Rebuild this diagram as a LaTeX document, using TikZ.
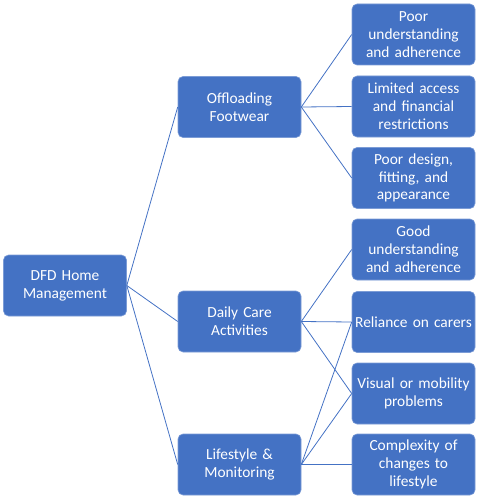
\documentclass[tikz,border=0pt]{standalone}
\usepackage{fontspec}
\setmainfont{Carlito}
\usepackage{xcolor}
\definecolor{dfdblue}{HTML}{4472C4}
\usetikzlibrary{calc}

\begin{document}
\begin{tikzpicture}[x=1pt, y=-1pt,
    dfdbox/.style={rectangle, rounded corners=5pt, fill=dfdblue, draw=dfdblue!70!white, line width=0.6pt,
        minimum width=123pt, minimum height=61pt, text width=120pt, align=center,
        text=white, font=\fontsize{15.4}{17.8}\selectfont, inner sep=1pt},
    dfdline/.style={dfdblue, line width=0.8pt}]
    \useasboundingbox (0,0) rectangle (478,500);
    \node[dfdbox] (HM) at (65, 285.5) {DFD Home\\Management};
    \node[dfdbox] (OF) at (239.5, 107) {Offloading\\Footwear};
    \node[dfdbox] (DC) at (239.5, 321.5) {Daily Care\\Activities};
    \node[dfdbox] (LM) at (239.5, 464.5) {Lifestyle \&\\Monitoring};
    \node[dfdbox] (PU) at (413.5, 34.5) {Poor\\understanding\\and adherence};
    \node[dfdbox] (LA) at (413.5, 106.5) {Limited access\\and financial\\restrictions};
    \node[dfdbox] (PD) at (413.5, 178) {Poor design,\\fitting, and\\appearance};
    \node[dfdbox] (GU) at (413.5, 249.5) {Good\\understanding\\and adherence};
    \node[dfdbox] (RC) at (413.5, 322) {Reliance on carers};
    \node[dfdbox] (VM) at (413.5, 393.5) {Visual or mobility\\problems};
    \node[dfdbox] (CL) at (413.5, 464.5) {Complexity of\\changes to\\lifestyle};
    \draw[dfdline] (HM.east) -- (OF.west);
    \draw[dfdline] (HM.east) -- (DC.west);
    \draw[dfdline] (HM.east) -- (LM.west);
    \draw[dfdline] (OF.east) -- (PU.west);
    \draw[dfdline] (OF.east) -- (LA.west);
    \draw[dfdline] (OF.east) -- (PD.west);
    \draw[dfdline] (DC.east) -- (GU.west);
    \draw[dfdline] (DC.east) -- (RC.west);
    \draw[dfdline] (DC.east) -- (VM.west);
    \draw[dfdline] (LM.east) -- (RC.west);
    \draw[dfdline] (LM.east) -- (VM.west);
    \draw[dfdline] (LM.east) -- (CL.west);
\end{tikzpicture}
\end{document}
